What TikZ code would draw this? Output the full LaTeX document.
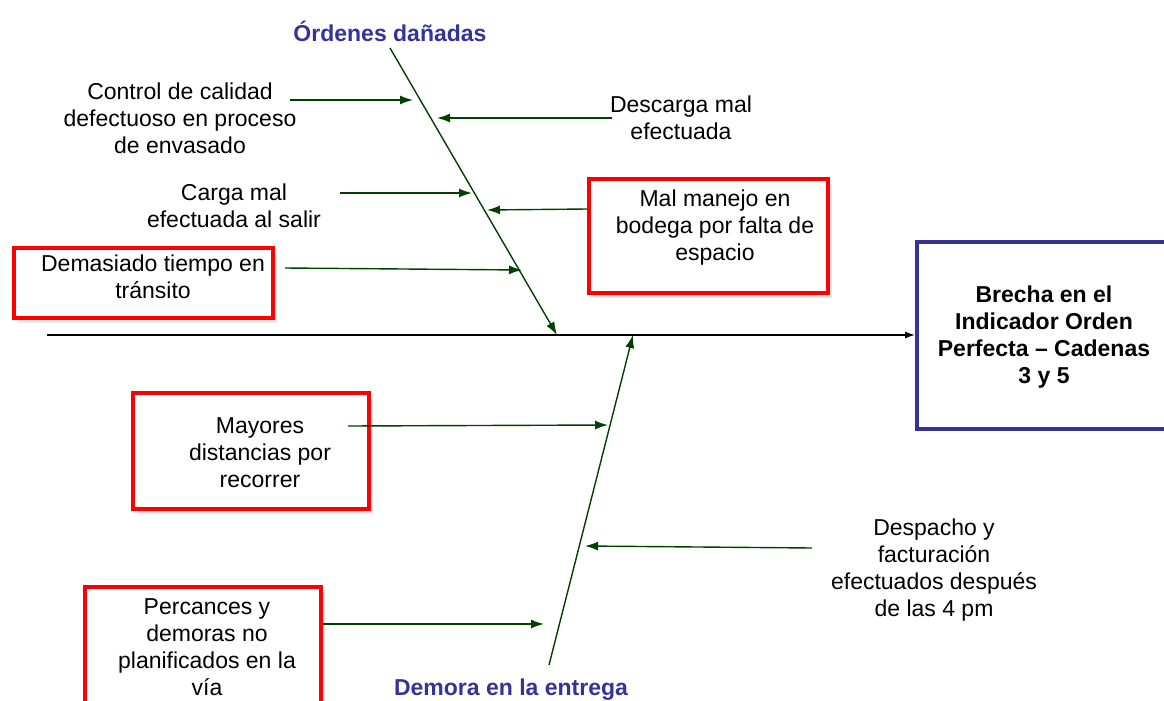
\documentclass[tikz,border=0pt]{standalone}
\usepackage{fontspec}
\setmainfont{Liberation Sans}
\usepackage{tikz}
\usetikzlibrary{arrows.meta,shadows}

\definecolor{bonegreen}{RGB}{0,64,0}
\definecolor{headblue}{RGB}{51,51,153}

\tikzset{
  cause/.style={align=center,inner sep=0pt,font=\fontsize{23}{27}\selectfont},
  redbox/.style={draw=red,line width=4pt,fill=white,inner sep=0pt,
    drop shadow={shadow xshift=4pt,shadow yshift=-5pt,opacity=0.2}},
  bonelabel/.style={text=headblue,font=\fontsize{23}{27}\selectfont\bfseries},
}

\begin{document}
\begin{tikzpicture}[x=1pt,y=-1pt,>={Latex[length=13pt,width=9pt]},
        every edge/.style={draw,->,bonegreen,line width=1.4pt}]

  \clip (0,0) rectangle (1164,701);

  % effect box
  \node[draw=headblue,line width=4pt,minimum width=262pt,minimum height=187pt]
    (goal) at (1048,335) {};
  \node[cause,font=\fontsize{23}{27}\selectfont\bfseries] (goaltext) at (1044,337)
    {Brecha en el\\Indicador Orden\\Perfecta -- Cadenas\\3 y 5};

  % spine and bones
  \coordinate (tail) at (47,335);
  \draw[->,>={Latex[length=10pt,width=7pt]},line width=1.3pt] (tail) -- (goal.west);

  \coordinate (topstart) at (390,48);
  \coordinate (topend) at (557,335);
  \coordinate (botstart) at (549,665);
  \coordinate (botend) at (633,335);
  \path (topstart) edge (topend)
        (botstart) edge (botend);

  \node[bonelabel] (ordenes) at (390,31) {Órdenes dañadas};
  \node[bonelabel] (demora) at (511,690) {Demora en la entrega};

  % boxes
  \node[redbox,minimum width=259pt,minimum height=70pt] (box1) at (143.5,283) {};
  \node[redbox,minimum width=239pt,minimum height=114pt] (box2) at (708.5,236) {};
  \node[redbox,minimum width=236pt,minimum height=116pt] (box3) at (251,451) {};
  \node[redbox,minimum width=236pt,minimum height=140pt] (box4) at (203,657) {};

  % causes
  \node[cause] (calidad) at (180,118)
    {Control de calidad\\defectuoso en proceso\\de envasado};
  \node[cause] (descarga) at (681,118) {Descarga mal\\efectuada};
  \node[cause] (carga) at (234,206) {Carga mal\\efectuada al salir};
  \node[cause] (manejo) at (715,228) {Mal manejo en\\bodega por falta de\\espacio};
  \node[cause] (transito) at (153,277) {Demasiado tiempo en\\tránsito};
  \node[cause] (distancias) at (260,453) {Mayores\\distancias por\\recorrer};
  \node[cause] (despacho) at (934,570)
    {Despacho y\\facturación\\efectuados después\\de las 4 pm};
  \node[cause] (percances) at (207,647)
    {Percances y\\demoras no\\planificados en la\\vía};

  \coordinate (s1) at (290,100);  \coordinate (e1) at (413,100);
  \coordinate (s2) at (612,118);  \coordinate (e2) at (437,118);
  \coordinate (s3) at (340,193);  \coordinate (e3) at (472,193);
  \coordinate (s4) at (587,209);  \coordinate (e4) at (487,210);
  \coordinate (s5) at (285,268);  \coordinate (e5) at (522,270);
  \coordinate (s6) at (348,426);  \coordinate (e6) at (608,425);
  \coordinate (s7) at (812,548);  \coordinate (e7) at (585,546);
  \coordinate (s8) at (323,624);  \coordinate (e8) at (544,624);

  \path (s1) edge (e1)
        (s2) edge (e2)
        (s3) edge (e3)
        (s4) edge (e4)
        (s5) edge (e5)
        (s6) edge (e6)
        (s7) edge (e7)
        (s8) edge (e8);

\end{tikzpicture}
\end{document}
